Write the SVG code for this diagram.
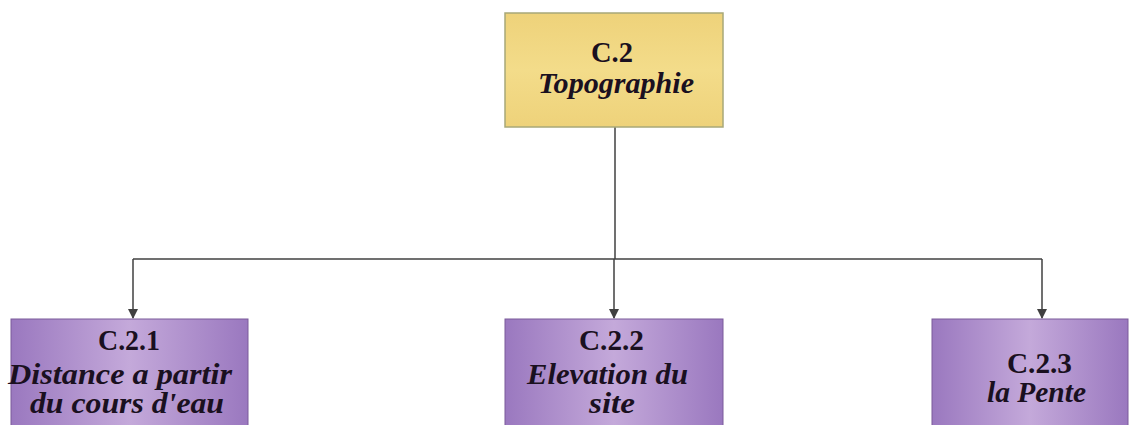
<svg xmlns="http://www.w3.org/2000/svg" width="1137" height="425" viewBox="0 0 1137 425">
<defs>
<linearGradient id="purp" x1="0" y1="0" x2="1" y2="0">
<stop offset="0" stop-color="#9a78bf"/>
<stop offset="0.5" stop-color="#c4a9da"/>
<stop offset="1" stop-color="#9a78bf"/>
</linearGradient>
<linearGradient id="gold" x1="0" y1="0" x2="0" y2="1">
<stop offset="0" stop-color="#eed27a"/>
<stop offset="0.5" stop-color="#f3dc8a"/>
<stop offset="1" stop-color="#eed27a"/>
</linearGradient>
<marker id="arr" markerWidth="10" markerHeight="10" refX="9" refY="5" orient="auto" markerUnits="userSpaceOnUse">
<path d="M0,0 L10,5 L0,10 Z" fill="#404040"/>
</marker>
<style>
.t{font-family:"Liberation Serif","Times New Roman",serif;font-weight:bold;font-size:29px;fill:#1a1020;text-anchor:middle}
.i{font-style:italic}
.pb{fill:url(#purp);stroke:#7a5a9a;stroke-width:1}
.gb{fill:url(#gold);stroke:#a8a878;stroke-width:1.5}
.c{fill:none;stroke:#404040;stroke-width:1.5}
</style>
</defs>
<g id="connectors">
<path class="c" d="M615,127 V259"/>
<path class="c" d="M133,259 H1042"/>
<path class="c" d="M133,259 V318" marker-end="url(#arr)"/>
<path class="c" d="M614,259 V318" marker-end="url(#arr)"/>
<path class="c" d="M1042,259 V318" marker-end="url(#arr)"/>
</g>
<g id="C2">
<rect class="gb" x="505" y="13" width="218" height="114"/>
<text class="t" x="612" y="62" textLength="42" lengthAdjust="spacingAndGlyphs">C.2</text>
<text class="t i" x="616" y="93" textLength="156" lengthAdjust="spacingAndGlyphs">Topographie</text>
</g>
<g id="C21">
<rect class="pb" x="11" y="319" width="237" height="120"/>
<text class="t" x="129" y="350" textLength="62" lengthAdjust="spacingAndGlyphs">C.2.1</text>
<text class="t i" x="120" y="384" textLength="224" lengthAdjust="spacingAndGlyphs">Distance a partir</text>
<text class="t i" x="127" y="413" textLength="194" lengthAdjust="spacingAndGlyphs">du cours d'eau</text>
</g>
<g id="C22">
<rect class="pb" x="505" y="319" width="218" height="120"/>
<text class="t" x="611.5" y="350" textLength="65" lengthAdjust="spacingAndGlyphs">C.2.2</text>
<text class="t i" x="607.5" y="384" textLength="161" lengthAdjust="spacingAndGlyphs">Elevation du</text>
<text class="t i" x="612" y="413" textLength="46" lengthAdjust="spacingAndGlyphs">site</text>
</g>
<g id="C23">
<rect class="pb" x="932" y="319" width="196" height="120"/>
<text class="t" x="1039.5" y="373" textLength="65" lengthAdjust="spacingAndGlyphs">C.2.3</text>
<text class="t i" x="1036.5" y="402" textLength="99" lengthAdjust="spacingAndGlyphs">la Pente</text>
</g>
</svg>
